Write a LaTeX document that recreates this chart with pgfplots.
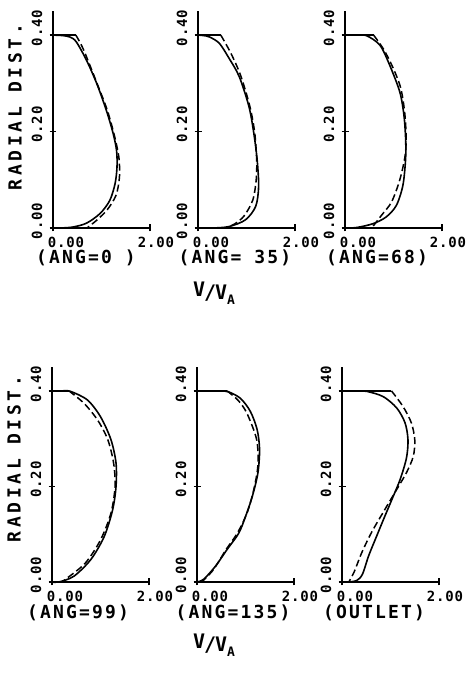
\documentclass[border=0pt]{standalone}
\usepackage{fontspec}
\usepackage{pgfplots}
\pgfplotsset{compat=1.18}

% plotter-style lettering
\newfontfamily\plotfont{DejaVu Sans Mono}[LetterSpace=6]
\newfontfamily\labelfont{DejaVu Sans Mono}[LetterSpace=12]
\newfontfamily\widefont{DejaVu Sans Mono}[LetterSpace=20]
\newcommand\tickfont{\plotfont\bfseries\fontsize{14bp}{14bp}\selectfont}
\newcommand\capfont{\labelfont\bfseries\fontsize{18bp}{18bp}\selectfont}
\newcommand\ylabfont{\widefont\bfseries\fontsize{18bp}{18bp}\selectfont}
\newcommand\velratio{\fontsize{20bp}{20bp}\selectfont\raisebox{0.3ex}{V}\kern-0.05em/\kern-0.05em V\raisebox{-0.4ex}{\fontsize{13bp}{13bp}\selectfont A}}

\pgfplotsset{
  panel/.style={
    scale only axis,
    width=97bp,
    xmin=0, xmax=2, ymin=0, ymax=0.45,
    axis lines=left,
    axis line style={-, line width=1.8bp},
    xtick={0}, extra x ticks={2},
    ytick={0,0.2,0.4},
    tick align=center,
    major tick length=7bp,
    tick style={line width=1.4bp, black},
    /pgf/number format/.cd, fixed, fixed zerofill, precision=2, assume math mode=true,
    /pgfplots/.cd,
    xticklabel style={font=\tickfont, anchor=north, inner sep=0pt, yshift=-5bp, xshift=13bp},
    extra x tick style={xticklabel style={xshift=-7bp}},
    yticklabel style={font=\tickfont, xshift=-7bp, yshift=7bp, rotate=90, anchor=south, inner sep=0pt},
    clip=false,
  },
  solidcurve/.style={black, line width=1.6bp, smooth, no marks},
  dashcurve/.style={black, line width=1.5bp, smooth, no marks, dash pattern=on 7bp off 3.5bp},
  wallseg/.style={black, line width=1.5bp, sharp plot, no marks},
}

\begin{document}
\begin{tikzpicture}
\useasboundingbox (0,0) rectangle (467bp,689bp);

% ---------- top row ----------
\begin{axis}[panel, height=217bp, at={(53bp,461bp)}, anchor=south west]
\addplot[solidcurve] coordinates {(0,0.400) (0.20,0.399) (0.35,0.396) (0.48,0.386) (0.69,0.348) (0.90,0.300) (1.10,0.244) (1.24,0.196) (1.31,0.161) (1.32,0.127) (1.28,0.092) (1.17,0.057) (0.97,0.030) (0.69,0.010) (0.41,0.002) (0.15,0.000) (0,0)};
\addplot[wallseg] coordinates {(0,0.4) (0.47,0.4)};
\addplot[dashcurve] coordinates {(0.47,0.4) (0.62,0.372) (0.90,0.302) (1.12,0.244) (1.27,0.190) (1.36,0.145) (1.37,0.105) (1.30,0.068) (1.12,0.038) (0.90,0.016) (0.70,0)};
\end{axis}

\begin{axis}[panel, height=217bp, at={(198bp,461bp)}, anchor=south west]
\addplot[solidcurve] coordinates {(0,0.4) (0.12,0.399) (0.24,0.396) (0.44,0.383) (0.64,0.352) (0.85,0.314) (1.05,0.252) (1.15,0.197) (1.22,0.141) (1.25,0.086) (1.19,0.045) (0.98,0.017) (0.64,0.003) (0.30,0) (0,0)};
\addplot[wallseg] coordinates {(0,0.4) (0.47,0.4)};
\addplot[dashcurve] coordinates {(0.47,0.4) (0.68,0.362) (0.88,0.316) (1.07,0.252) (1.17,0.197) (1.21,0.14) (1.20,0.10) (1.13,0.058) (0.95,0.025) (0.75,0.008) (0.55,0)};
\end{axis}

\begin{axis}[panel, height=217bp, at={(345bp,461bp)}, anchor=south west]
\addplot[solidcurve] coordinates {(0,0.4) (0.2,0.4) (0.44,0.399) (0.72,0.379) (0.92,0.338) (1.13,0.282) (1.215,0.234) (1.25,0.185) (1.25,0.144) (1.195,0.089) (1.06,0.047) (0.85,0.023) (0.58,0.009) (0.24,0.001) (0,0)};
\addplot[wallseg] coordinates {(0,0.4) (0.59,0.4)};
\addplot[dashcurve] coordinates {(0.59,0.4) (0.80,0.37) (1.00,0.33) (1.15,0.29) (1.23,0.24) (1.26,0.19) (1.24,0.15) (1.13,0.10) (0.96,0.054) (0.75,0.026) (0.55,0)};
\end{axis}

% ---------- bottom row ----------
\begin{axis}[panel, height=215bp, at={(52bp,107bp)}, anchor=south west]
\addplot[solidcurve] coordinates {(0,0.4) (0.2,0.4) (0.38,0.399) (0.73,0.381) (1.0,0.346) (1.215,0.298) (1.32,0.249) (1.32,0.2) (1.25,0.151) (1.076,0.095) (0.80,0.047) (0.45,0.012) (0.14,0) (0,0)};
\addplot[wallseg] coordinates {(0,0.4) (0.35,0.4)};
\addplot[dashcurve] coordinates {(0.35,0.4) (0.66,0.374) (0.94,0.339) (1.15,0.298) (1.27,0.249) (1.30,0.2) (1.215,0.144) (1.0,0.088) (0.69,0.04) (0.31,0.008) (0.2,0)};
\end{axis}

\begin{axis}[panel, height=215bp, at={(197bp,107bp)}, anchor=south west]
\addplot[solidcurve] coordinates {(0,0.4) (0.45,0.4) (0.65,0.398) (0.9,0.384) (1.10,0.357) (1.24,0.319) (1.29,0.277) (1.255,0.228) (1.14,0.179) (1.0,0.137) (0.86,0.102) (0.62,0.068) (0.38,0.033) (0.14,0.006) (0,0)};
\addplot[wallseg] coordinates {(0,0.4) (0.62,0.4)};
\addplot[dashcurve] coordinates {(0.62,0.4) (0.85,0.38) (1.03,0.353) (1.23,0.298) (1.255,0.244) (1.17,0.193) (1.03,0.144) (0.83,0.102) (0.60,0.068) (0.34,0.026) (0.1,0)};
\end{axis}

\begin{axis}[panel, height=215bp, at={(342bp,107bp)}, anchor=south west]
\addplot[solidcurve] coordinates {(0,0.4) (0.30,0.4) (0.51,0.399) (0.85,0.388) (1.13,0.364) (1.30,0.333) (1.36,0.298) (1.33,0.26) (1.20,0.215) (1.03,0.173) (0.86,0.132) (0.69,0.09) (0.55,0.055) (0.42,0.016) (0.30,0.003) (0.12,0) (0,0)};
\addplot[wallseg] coordinates {(0,0.4) (1.02,0.4)};
\addplot[dashcurve] coordinates {(1.02,0.4) (1.26,0.367) (1.43,0.333) (1.50,0.298) (1.47,0.263) (1.33,0.229) (1.13,0.194) (0.85,0.146) (0.61,0.104) (0.41,0.062) (0.25,0.021) (0.14,0)};
\end{axis}

% ---------- captions ----------
\node[rotate=90, font=\ylabfont] at (15bp,582bp) {RADIAL DIST.};
\node[rotate=90, font=\ylabfont] at (14bp,230bp) {RADIAL DIST.};

\node[font=\capfont] at (86bp,431bp) {(ANG=0 )};
\node[font=\capfont] at (235bp,431bp) {(ANG= 35)};
\node[font=\capfont] at (377bp,431bp) {(ANG=68)};
\node[font=\capfont] at (78bp,76bp) {(ANG=99)};
\node[font=\capfont] at (233bp,76bp) {(ANG=135)};
\node[font=\capfont] at (374bp,76bp) {(OUTLET)};

\node[font=\capfont\bfseries, inner sep=0pt] at (214bp,396bp) {\velratio};
\node[font=\capfont\bfseries, inner sep=0pt] at (214bp,44bp) {\velratio};
\end{tikzpicture}
\end{document}
